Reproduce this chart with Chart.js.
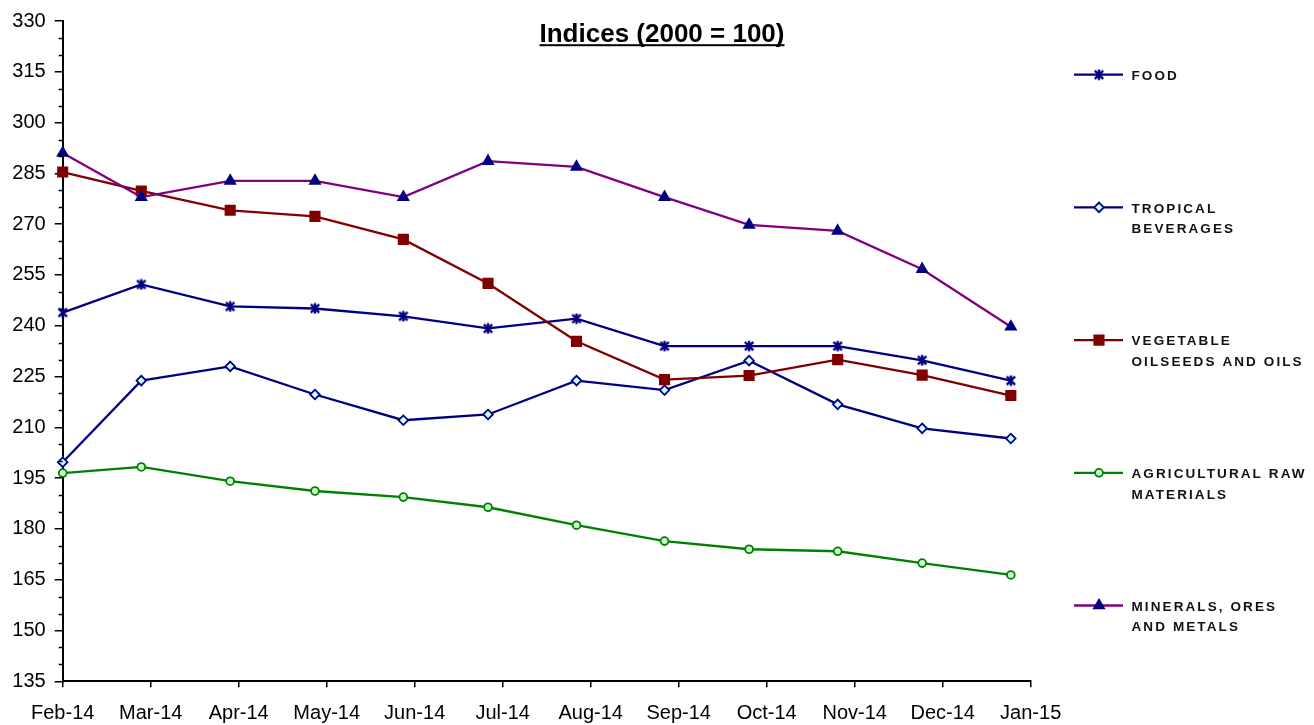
<!DOCTYPE html>
<html>
<head>
<meta charset="utf-8">
<script src="https://cdn.jsdelivr.net/npm/chart.js@4.4.1/dist/chart.umd.min.js"></script>
<style>
  html, body { margin: 0; padding: 0; background: #fff; }
  #wrap { width: 1314px; height: 725px; position: relative; }
</style>
</head>
<body>
<div id="wrap"><canvas id="indices"></canvas></div>
<script>
// tick labels of the date axis (one per month)
const monthLabels = ["Feb-14", "Mar-14", "Apr-14", "May-14", "Jun-14", "Jul-14",
    "Aug-14", "Sep-14", "Oct-14", "Nov-14", "Dec-14", "Jan-15"];

// observation dates of the points
const obsDates = ["2014-02-01", "2014-02-26", "2014-03-29", "2014-04-27", "2014-05-28", "2014-06-26",
    "2014-07-27", "2014-08-27", "2014-09-25", "2014-10-26", "2014-11-24", "2014-12-25"];

const seriesNames = [
    ["FOOD"],
    ["TROPICAL", "BEVERAGES"],
    ["VEGETABLE", "OILSEEDS AND OILS"],
    ["AGRICULTURAL RAW", "MATERIALS"],
    ["MINERALS, ORES", "AND METALS"]
];

const food       = [243.9, 252.2, 245.7, 245.1, 242.8, 239.2, 242.1, 234.0, 234.0, 234.0, 229.8, 223.8];
const tropical   = [199.7, 223.8, 228.0, 219.7, 212.1, 213.8, 223.8, 221.0, 229.7, 216.8, 209.7, 206.7];
const vegetable  = [285.4, 279.8, 274.1, 272.3, 265.5, 252.5, 235.4, 224.1, 225.3, 230.0, 225.4, 219.4];
const agricult   = [196.5, 198.3, 194.1, 191.2, 189.4, 186.4, 181.1, 176.4, 174.0, 173.4, 169.9, 166.4];
const minerals   = [291.0, 278.0, 282.8, 282.8, 278.0, 288.6, 286.9, 278.0, 269.8, 268.0, 256.7, 239.7];

const yMin = 135, yMax = 330, yStep = 15, yMinorStep = 5;

// date -> position on the month axis (Feb-14 = 0)
function monthPos(s) {
    const d = new Date(s + "T00:00:00Z");
    const y = d.getUTCFullYear(), m = d.getUTCMonth();
    const daysIn = new Date(Date.UTC(y, m + 1, 0)).getUTCDate();
    return (y - 2014) * 12 + (m - 1) + (d.getUTCDate() - 1) / daysIn;
}
const xs = obsDates.map(monthPos);
const toPoints = (vals) => vals.map((v, i) => ({ x: xs[i], y: v }));

// asterisk marker like the excel one
const star = document.createElement("canvas");
star.width = 12; star.height = 12;
(function () {
    const c = star.getContext("2d");
    c.strokeStyle = "#000080";
    c.lineWidth = 2.4;
    c.beginPath();
    c.moveTo(6, 0.8); c.lineTo(6, 11.2);
    c.moveTo(1.8, 1.8); c.lineTo(10.2, 10.2);
    c.moveTo(10.2, 1.8); c.lineTo(1.8, 10.2);
    c.stroke();
})();

const styles = [
    { line: "#000080", pointStyle: star, radius: 5, fill: "#000080", border: "#000080" },
    { line: "#000080", pointStyle: "rectRot", radius: 4.8, fill: "#ccffff", border: "#000080" },
    { line: "#800000", pointStyle: "rect", radius: 6.6, fill: "#800000", border: "#800000" },
    { line: "#008000", pointStyle: "circle", radius: 3.9, fill: "#ccffcc", border: "#008000" },
    { line: "#800080", pointStyle: "triangle", radius: 5.8, fill: "#000080", border: "#000080" }
];
const seriesValues = [food, tropical, vegetable, agricult, minerals];

const datasets = seriesValues.map((vals, i) => ({
    label: seriesNames[i].join(" "),
    data: toPoints(vals),
    borderColor: styles[i].line,
    borderWidth: 2.3,
    pointStyle: styles[i].pointStyle,
    pointRadius: styles[i].radius,
    pointBackgroundColor: styles[i].fill,
    pointBorderColor: styles[i].border,
    pointBorderWidth: 1.8,
    tension: 0,
    clip: false,
    order: 10 - i
}));

// title with underline
const titlePlugin = {
    id: "underlinedTitle",
    afterDraw(chart) {
        const ctx = chart.ctx;
        const txt = "Indices (2000 = 100)";
        ctx.save();
        ctx.font = "bold 26px 'Liberation Sans', Arial, sans-serif";
        ctx.fillStyle = "#000";
        ctx.textAlign = "center";
        ctx.textBaseline = "alphabetic";
        const cx = 662, base = 41.7;
        ctx.fillText(txt, cx, base);
        const w = ctx.measureText(txt).width;
        ctx.fillRect(cx - w / 2, base + 2.5, w, 2);
        ctx.restore();
    }
};

// minor ticks on the value axis
const minorTicks = {
    id: "minorTicks",
    afterDraw(chart) {
        const s = chart.scales.y, ctx = chart.ctx;
        ctx.save();
        ctx.strokeStyle = "#000";
        ctx.lineWidth = 1.5;
        ctx.beginPath();
        for (let v = yMin; v <= yMax; v += yMinorStep) {
            if ((v - yMin) % yStep === 0) continue;
            const py = Math.round(s.getPixelForValue(v)) + 0.5;
            ctx.moveTo(s.right - 4, py);
            ctx.lineTo(s.right, py);
        }
        ctx.stroke();
        ctx.restore();
    }
};

// legend on the right, one entry every 132.7px
const sideLegend = {
    id: "sideLegend",
    afterDraw(chart) {
        const ctx = chart.ctx;
        ctx.save();
        chart.data.datasets.forEach((ds, i) => {
            const y0 = 74.7 + i * 132.7;
            ctx.strokeStyle = ds.borderColor;
            ctx.lineWidth = 2.3;
            ctx.beginPath();
            ctx.moveTo(1074, y0);
            ctx.lineTo(1123, y0);
            ctx.stroke();
            ctx.fillStyle = ds.pointBackgroundColor;
            ctx.strokeStyle = ds.pointBorderColor;
            ctx.lineWidth = ds.pointBorderWidth;
            Chart.helpers.drawPoint(ctx, {
                pointStyle: ds.pointStyle,
                radius: ds.pointRadius,
                rotation: 0,
                borderWidth: ds.pointBorderWidth
            }, 1099, y0);
            ctx.fillStyle = "#111";
            ctx.font = "bold 13.5px 'Liberation Sans', Arial, sans-serif";
            ctx.letterSpacing = "2.1px";
            ctx.textAlign = "left";
            ctx.textBaseline = "middle";
            seriesNames[i].forEach((t, k) => {
                ctx.fillText(t, 1131.5, y0 + 1.5 + k * 20.5);
            });
        });
        ctx.restore();
    }
};

const config = {
    type: "line",
    data: { datasets: datasets },
    options: {
        responsive: true,
        maintainAspectRatio: false,
        animation: false,
        events: [],
        layout: {
            padding: { top: 20.7, right: 283.3, left: 0, bottom: 0 }
        },
        scales: {
            x: {
                type: "linear",
                min: 0,
                max: monthLabels.length - 1,
                afterFit(scale) { scale.height = 43.7; },
                ticks: {
                    stepSize: 1,
                    autoSkip: false,
                    maxRotation: 0,
                    color: "#000",
                    padding: 14,
                    font: { family: "'Liberation Sans', Arial, sans-serif", size: 20 },
                    callback: (v) => monthLabels[v]
                },
                grid: {
                    drawOnChartArea: false,
                    drawTicks: true,
                    tickLength: 6,
                    color: "#000",
                    lineWidth: 1.5
                },
                border: { color: "#000", width: 2 }
            },
            y: {
                min: yMin,
                max: yMax,
                afterFit(scale) { scale.width = 62.7; },
                ticks: {
                    stepSize: yStep,
                    color: "#000",
                    padding: 9,
                    font: { family: "'Liberation Sans', Arial, sans-serif", size: 20 }
                },
                grid: {
                    drawOnChartArea: false,
                    drawTicks: true,
                    tickLength: 8,
                    color: "#000",
                    lineWidth: 1.5
                },
                border: { color: "#000", width: 2 }
            }
        },
        plugins: {
            legend: { display: false },
            tooltip: { enabled: false },
            title: { display: false }
        }
    },
    plugins: [titlePlugin, minorTicks, sideLegend]
};

new Chart(document.getElementById("indices"), config);
</script>
</body>
</html>
